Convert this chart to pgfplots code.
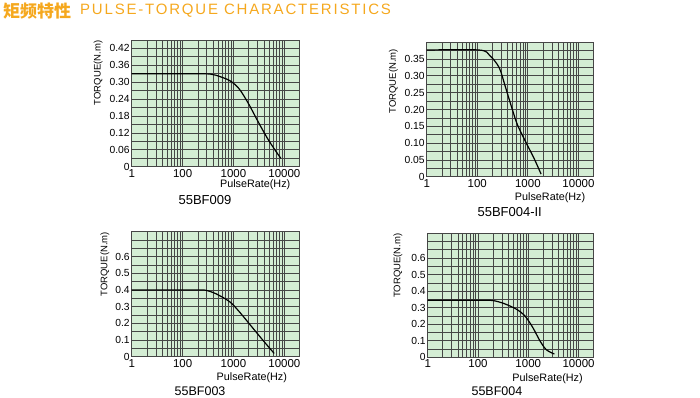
\documentclass[border=0pt]{standalone}
\usepackage{pgfplots}
\pgfplotsset{compat=1.18}
\usepackage{fontspec}
\setmainfont{Liberation Sans}
\newfontfamily\cjk{Noto Sans CJK SC}
\newfontfamily\ttl[LetterSpace=12]{Liberation Sans}
\definecolor{paper}{RGB}{212,237,212}
\definecolor{gridc}{RGB}{70,70,70}
\definecolor{ttlc}{RGB}{245,168,30}
\pgfplotsset{
  every axis/.append style={
    scale only axis,
    xmin=10, xmax=20000,
    xtick={10,100,1000,10000}, xticklabels={1,100,1000,10000},
    minor xtick={20,30,40,50,60,70,80,90,200,300,400,500,600,700,800,900,2000,3000,4000,5000,6000,7000,8000,9000,20000},
    grid=both,
    grid style={draw=gridc, line width=0.8pt},
    major grid style={draw=gridc, line width=0.8pt},
    minor grid style={draw=gridc, line width=0.8pt},
    major tick length=0pt, minor tick length=0pt,
    axis line style={draw=gridc, line width=0.9pt},
    xticklabel style={font=\fontsize{11.5}{13}\selectfont, yshift=1pt},
    yticklabel style={font=\fontsize{10.3}{12}\selectfont, xshift=1.5pt},
    clip=false,
  },
}
\begin{document}
\begin{tikzpicture}
\path[use as bounding box] (0,0) rectangle (700pt,397pt);
\node[anchor=base west, inner sep=0, text=ttlc, font=\cjk\bfseries\fontsize{17}{19}\selectfont] at (3pt,379pt) {矩频特性};
\node[anchor=base west, inner sep=0, text=ttlc, font=\ttl\fontsize{15}{17}\selectfont] at (80pt,382pt) {PULSE-TORQUE CHARACTERISTICS};

% 55BF009
\begin{semilogxaxis}[at={(131.7pt,230.3pt)}, anchor=south west, width=168pt, height=126.7pt,
  axis background/.style={fill=paper},
  /pgf/number format/assume math mode=true,
  ymin=0, ymax=0.45,
  ytick={0,0.06,0.12,0.18,0.24,0.30,0.36,0.42},
  yticklabels={0,0.06,0.12,0.18,0.24,0.30,0.36,0.42},
  minor ytick={0.03,0.09,0.15,0.21,0.27,0.33,0.39,0.45}]
\addplot[black, line width=1.2pt, smooth, tension=0.5] coordinates {(10,0.33) (200,0.33) (350,0.329) (450,0.325) (840,0.306) (1300,0.276) (2000,0.222) (3000,0.162) (4600,0.102) (6500,0.06) (8500,0.03)};
\node[rotate=90, font=\fontsize{9.5}{11}\selectfont] at (rel axis cs:-0.20,0.74) {TORQUE(N.m)};
\node[anchor=east, yshift=-18pt, font=\fontsize{10.8}{12}\selectfont] at (rel axis cs:0.965,0) {PulseRate(Hz)};
\node[yshift=-33pt, font=\fontsize{13}{15}\selectfont] at (rel axis cs:0.436,0) {55BF009};
\end{semilogxaxis}

% 55BF004-II
\begin{semilogxaxis}[at={(426.7pt,220.3pt)}, anchor=south west, width=167pt, height=134.4pt,
  axis background/.style={fill=paper},
  /pgf/number format/assume math mode=true,
  ymin=0, ymax=0.40,
  ytick={0,0.05,0.10,0.15,0.20,0.25,0.30,0.35},
  yticklabels={0,0.05,0.10,0.15,0.20,0.25,0.30,0.35},
  minor ytick={0.025,0.075,0.125,0.175,0.225,0.275,0.325,0.375}]
\addplot[black, line width=1.2pt, smooth, tension=0.5] coordinates {(10,0.377) (110,0.377) (178,0.36) (270,0.325) (355,0.27) (470,0.21) (620,0.155) (930,0.10) (1320,0.055) (1820,0.008)};
\node[rotate=90, font=\fontsize{9.5}{11}\selectfont] at (rel axis cs:-0.20,0.71) {TORQUE(N.m)};
\node[anchor=east, yshift=-20.6pt, font=\fontsize{10.8}{12}\selectfont] at (rel axis cs:0.97,0) {PulseRate(Hz)};
\node[yshift=-35pt, font=\fontsize{13}{15}\selectfont] at (rel axis cs:0.497,0) {55BF004-II};
\end{semilogxaxis}

% 55BF003
\begin{semilogxaxis}[at={(131.7pt,40.3pt)}, anchor=south west, width=168pt, height=125pt,
  axis background/.style={fill=paper},
  /pgf/number format/assume math mode=true,
  ymin=0, ymax=0.75,
  ytick={0,0.1,0.2,0.3,0.4,0.5,0.6},
  yticklabels={0,0.1,0.2,0.3,0.4,0.5,0.6},
  minor ytick={0.05,0.15,0.25,0.35,0.45,0.55,0.65,0.7}]
\addplot[black, line width=1.2pt, smooth, tension=0.5] coordinates {(10,0.4) (180,0.4) (280,0.399) (450,0.378) (840,0.33) (1300,0.27) (2280,0.18) (4000,0.09) (6300,0.02)};
\node[rotate=90, font=\fontsize{9.5}{11}\selectfont] at (rel axis cs:-0.16,0.74) {TORQUE(N.m)};
\node[anchor=east, yshift=-21pt, font=\fontsize{10.8}{12}\selectfont] at (rel axis cs:0.945,0) {PulseRate(Hz)};
\node[yshift=-34.3pt, font=\fontsize{12.5}{15}\selectfont] at (rel axis cs:0.407,0) {55BF003};
\end{semilogxaxis}

% 55BF004
\begin{semilogxaxis}[at={(427.7pt,39.7pt)}, anchor=south west, width=166pt, height=124pt,
  axis background/.style={fill=paper},
  /pgf/number format/assume math mode=true,
  ymin=0, ymax=0.75,
  ytick={0,0.1,0.2,0.3,0.4,0.5,0.6},
  yticklabels={0,0.1,0.2,0.3,0.4,0.5,0.6},
  minor ytick={0.05,0.15,0.25,0.35,0.45,0.55,0.65,0.7}]
\addplot[black, line width=1.2pt, smooth, tension=0.5] coordinates {(10,0.345) (120,0.345) (200,0.343) (330,0.325) (590,0.29) (860,0.25) (1230,0.18) (1740,0.095) (2300,0.045) (3300,0.02)};
\node[rotate=90, font=\fontsize{9.5}{11}\selectfont] at (rel axis cs:-0.18,0.74) {TORQUE(N.m)};
\node[anchor=east, yshift=-21.7pt, font=\fontsize{10.8}{12}\selectfont] at (rel axis cs:0.955,0) {PulseRate(Hz)};
\node[yshift=-33.7pt, font=\fontsize{12.5}{15}\selectfont] at (rel axis cs:0.417,0) {55BF004};
\end{semilogxaxis}
\end{tikzpicture}
\end{document}
